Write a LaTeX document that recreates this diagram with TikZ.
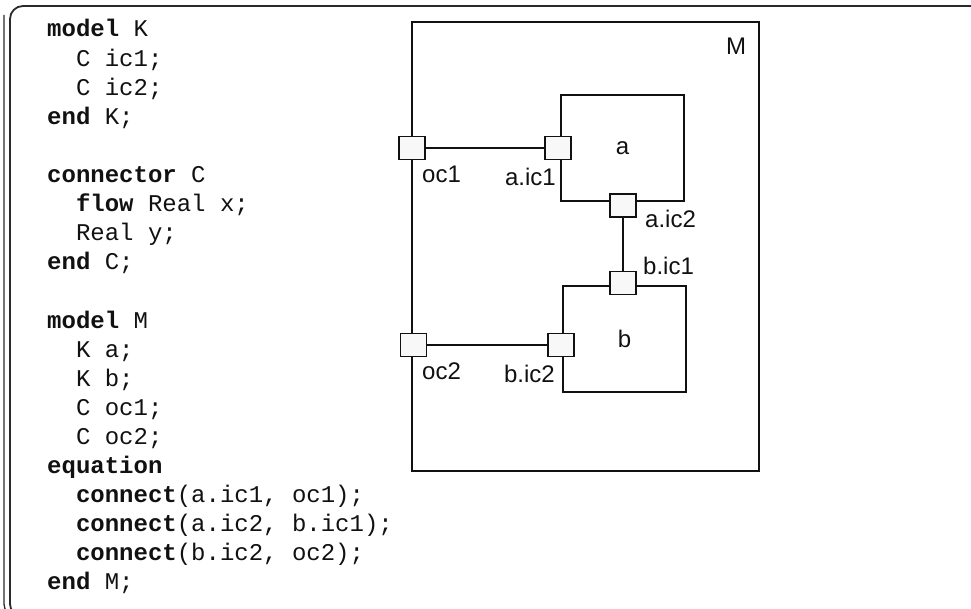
\documentclass[tikz,border=0pt]{standalone}
\usepackage{fontspec}
\setmainfont{Liberation Sans}
\setmonofont{Liberation Mono}
\usetikzlibrary{positioning}
\definecolor{ink}      {HTML}{111111}
\definecolor{portfill} {HTML}{F8F8F8}
\definecolor{frameink} {HTML}{2A2A2A}
\newcommand{\kw}[1]{\textbf{#1}}
\tikzset{
  every node/.style={font=\fontsize{24}{28}\selectfont},
  % --- nodes
  blk/.style  = {draw=ink, line width=1.7pt, minimum width=123, minimum height=106,
                 inner sep=0pt, text=ink},
  port/.style = {draw=ink, line width=1.5pt, fill=portfill, minimum width=26,
                 minimum height=23, inner sep=0pt},
  plbl/.style = {inner sep=0pt, text=ink},
  code/.style = {inner sep=0pt, anchor=base west, text=ink,
                 font=\fontsize{24}{29}\ttfamily},
  % --- edges
  wire/.style = {line width=2pt, draw=ink},
  rim/.style  = {draw=frameink, line width=1.3pt, rounded corners=13pt},
}

\begin{document}
\begin{tikzpicture}[x=1pt, y=-1pt]
  \useasboundingbox (0,0) rectangle (971,609);
  % page rim
  \draw[rim, line width=1.8pt] (971,6) -- (10,6) -- (10,617) -- (40,617);
  \draw[rim] (4,15) -- (4,617) -- (40,617);

  % listing
  \foreach \row/\txt in {0/{\kw{model} K}, 1/{\ \ C ic1;}, 2/{\ \ C ic2;}, 3/{\kw{end} K;},
                         5/{\kw{connector} C}, 6/{\ \ \kw{flow} Real x;}, 7/{\ \ Real y;},
                         8/{\kw{end} C;},
                         10/{\kw{model} M}, 11/{\ \ K a;}, 12/{\ \ K b;}, 13/{\ \ C oc1;},
                         14/{\ \ C oc2;}, 15/{\kw{equation}},
                         16/{\ \ \kw{connect}(a.ic1, oc1);},
                         17/{\ \ \kw{connect}(a.ic2, b.ic1);},
                         18/{\ \ \kw{connect}(b.ic2, oc2);}, 19/{\kw{end} M;}}
    \node[code] (ln\row) at (47,{37+29.1*\row}) {\txt};

  % component diagram
  \node[blk, minimum width=347, minimum height=449] (M) at (585.5,246.5) {};
  \node[plbl, anchor=base] (Mlbl) at (736,55) {M};
  \node[blk] (a) at (622.5,148) {a};
  \node[blk] (b) at (624.5,339) {b};

  \node[port] (oc1)  at (412,148) {};
  \node[port] (aic1) at (558,148) {};
  \node[port] (aic2) at (623,205.5) {};
  \node[port] (bic1) at (623,283) {};
  \node[port] (bic2) at (561,345) {};
  \node[port] (oc2)  at (413.5,345) {};

  \draw[wire] (oc1) -- (aic1);
  \draw[wire] (aic2) -- (bic1);
  \draw[wire] (bic2) -- (oc2);

  \node[plbl, anchor=base west] (loc1)  at (422,183) {oc1};
  \node[plbl, anchor=base east] (laic1) at (556,186) {a.ic1};
  \node[plbl, anchor=base west] (laic2) at (645,228) {a.ic2};
  \node[plbl, anchor=base west] (lbic1) at (643,275) {b.ic1};
  \node[plbl, anchor=base east] (lbic2) at (555,382) {b.ic2};
  \node[plbl, anchor=base west] (loc2)  at (422,379) {oc2};
\end{tikzpicture}
\end{document}
